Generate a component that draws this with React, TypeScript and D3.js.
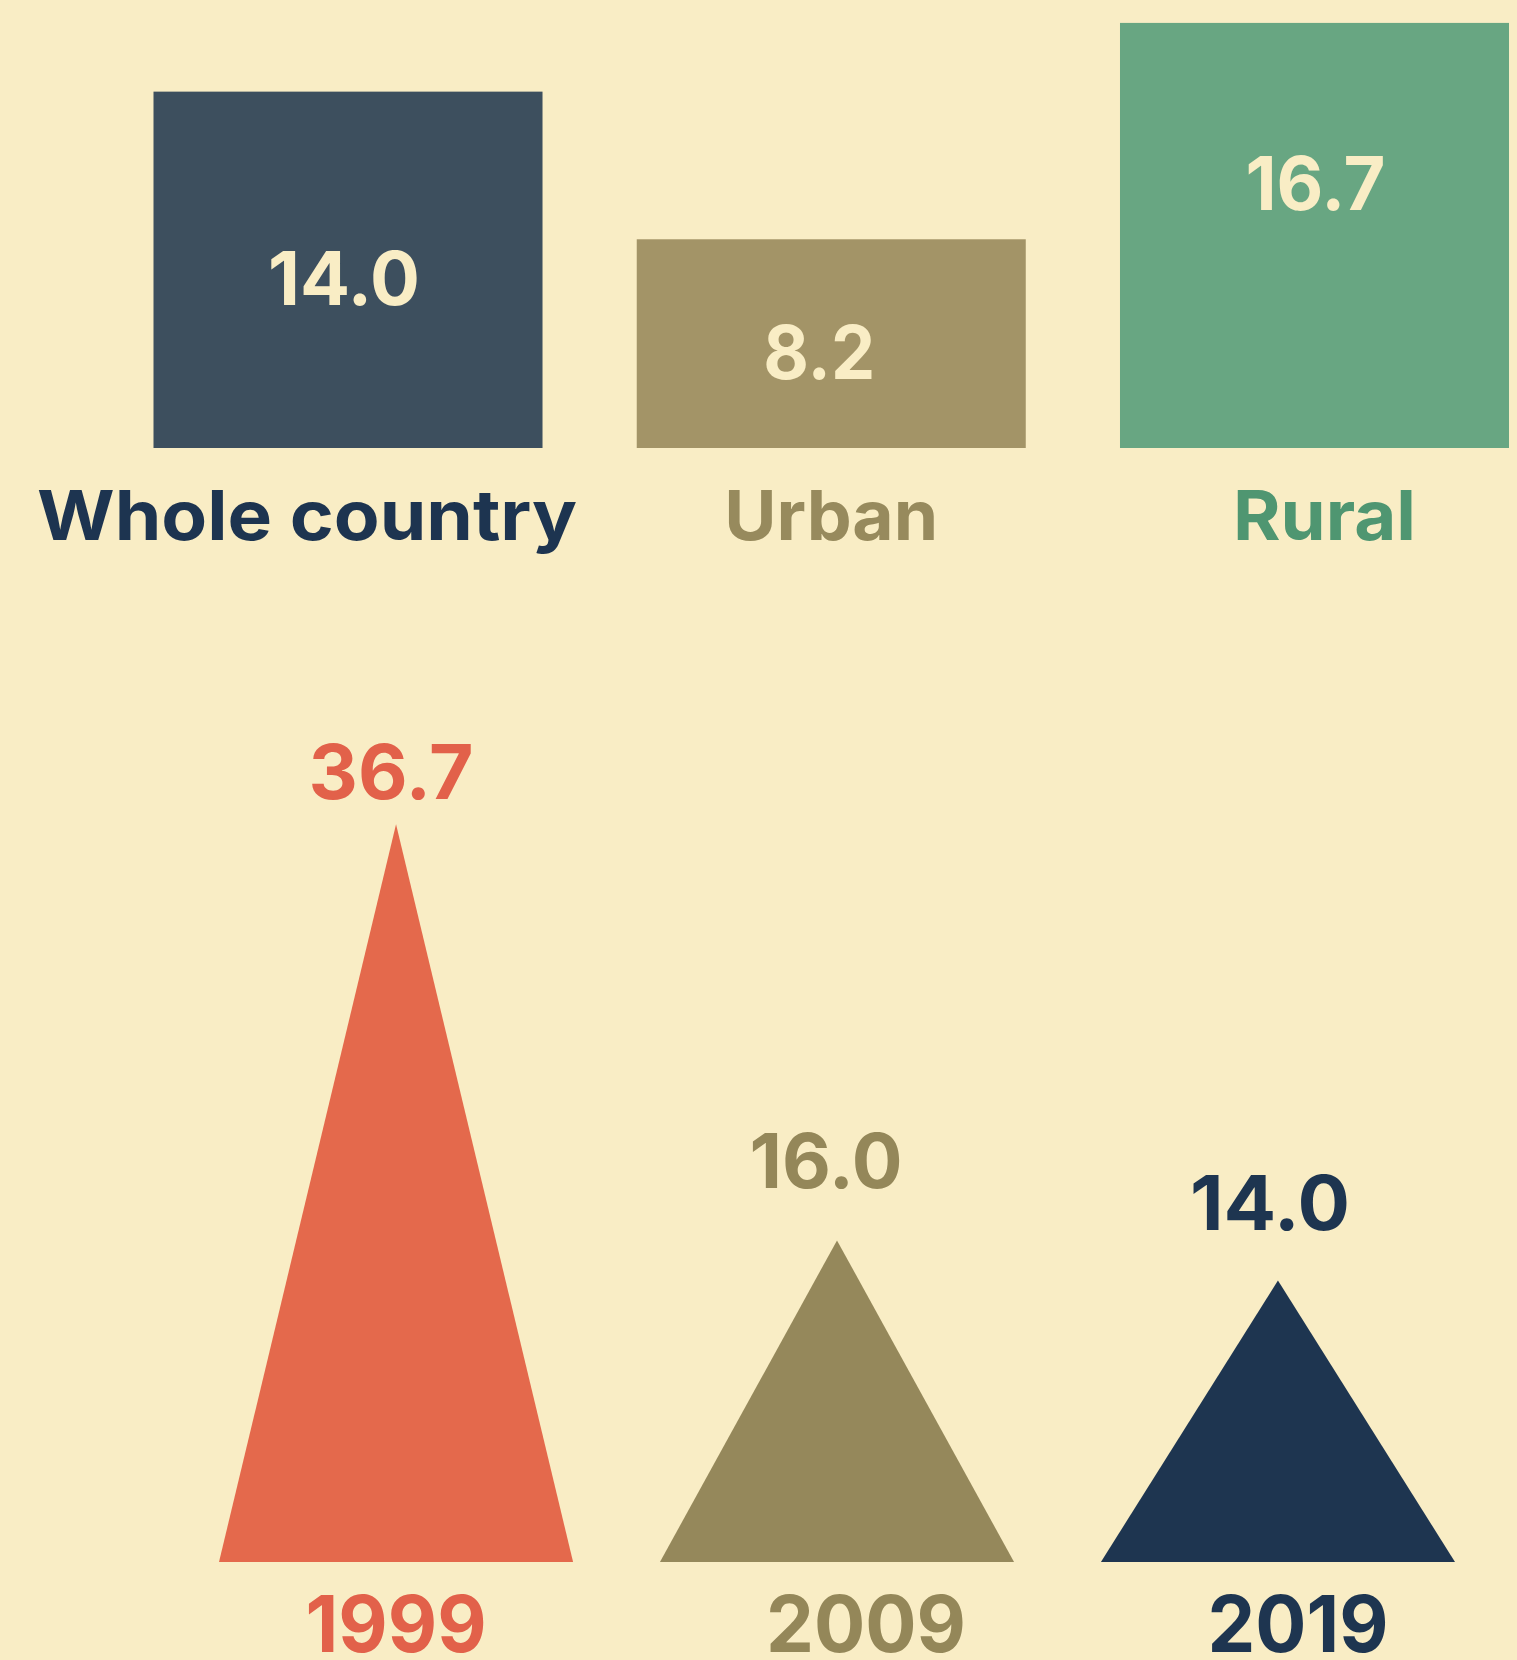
import React from "react";
import * as d3 from "d3";

const areaCategories = ["Whole country", "Urban", "Rural"];
const areaValues = [14.0, 8.2, 16.7];
const areaValueLabels = ["14.0", "8.2", "16.7"];

const years = ["1999", "2009", "2019"];
const yearValues = [36.7, 16.0, 14.0];
const yearValueLabels = ["36.7", "16.0", "14.0"];

const W = 1517;
const H = 1660;
const BG = "#F9EDC5";
const FONT = "Inter, 'DejaVu Sans', sans-serif";

const barFill = ["#3D4F5E", "#A39467", "#68A682"];
const barLabelFill = ["#1D3450", "#978A5D", "#4F9671"];
const triFill = ["#E4694C", "#95885B", "#1E3550"];
const triLabelFill = ["#E2614A", "#948759", "#1E3550"];

// layout tweaks (not data)
const barValueFrac = [0.598, 0.671, 0.44];
const barValueDx = [-4, -12, 1];
const barValueLen = [152, 112, 140];
const catDx = [-41, 0, 10];
const catLen = [540, 214, 183];
const triValueGap = [25, 52, 51];
const triValueDx = [-5, -11, -8];
const triValueLen = [165, 153, 160];
const yearDx = [0, 29, 20];
const yearLen = [181, 200, 181];

export default function App() {
  const xTop = d3
    .scaleBand<string>()
    .domain(areaCategories)
    .range([153.5, 1509])
    .paddingInner(0.195)
    .paddingOuter(0);
  const yTop = d3.scaleLinear().domain([0, 17.6]).range([448, 0]);

  const xBot = d3
    .scaleBand<string>()
    .domain(years)
    .range([219, 1455])
    .paddingInner(0.197)
    .paddingOuter(0);
  const yBot = d3.scaleLinear().domain([0, 40]).range([1562, 1562 - 804]);

  const tri = d3.line<[number, number]>();

  return (
    <svg
      width={W}
      height={H}
      viewBox={`0 0 ${W} ${H}`}
      style={{ position: "absolute", left: 0, top: 0, display: "block" }}
    >
      <rect x={0} y={0} width={W} height={H} fill={BG} />

      {areaCategories.map((c, i) => {
        const x0 = xTop(c)!;
        const bw = xTop.bandwidth();
        const y0 = yTop(areaValues[i]);
        const y1 = yTop(0);
        const cx = x0 + bw / 2;
        return (
          <g key={c}>
            <rect x={x0} y={y0} width={bw} height={y1 - y0} fill={barFill[i]} />
            <text
              x={cx + barValueDx[i]}
              y={y0 + barValueFrac[i] * (y1 - y0)}
              textAnchor="middle"
              fontFamily={FONT}
              fontWeight={700}
              fontSize={74}
              fill={BG}
              textLength={barValueLen[i]}
              lengthAdjust="spacingAndGlyphs"
            >
              {areaValueLabels[i]}
            </text>
            <text
              x={cx + catDx[i]}
              y={540}
              textAnchor="middle"
              fontFamily={FONT}
              fontWeight={700}
              fontSize={69}
              fill={barLabelFill[i]}
              textLength={catLen[i]}
              lengthAdjust="spacingAndGlyphs"
            >
              {c}
            </text>
          </g>
        );
      })}

      {years.map((yr, i) => {
        const x0 = xBot(yr)!;
        const bw = xBot.bandwidth();
        const cx = x0 + bw / 2;
        const apexY = yBot(yearValues[i]);
        const baseY = yBot(0);
        const pts: [number, number][] = [
          [x0, baseY],
          [cx, apexY],
          [x0 + bw, baseY],
        ];
        return (
          <g key={yr}>
            <path d={tri(pts)! + "Z"} fill={triFill[i]} />
            <text
              x={cx + triValueDx[i]}
              y={apexY - triValueGap[i]}
              textAnchor="middle"
              fontFamily={FONT}
              fontWeight={700}
              fontSize={76}
              fill={triLabelFill[i]}
              textLength={triValueLen[i]}
              lengthAdjust="spacingAndGlyphs"
            >
              {yearValueLabels[i]}
            </text>
            <text
              x={cx + yearDx[i]}
              y={1652}
              textAnchor="middle"
              fontFamily={FONT}
              fontWeight={700}
              fontSize={78}
              fill={triLabelFill[i]}
              textLength={yearLen[i]}
              lengthAdjust="spacingAndGlyphs"
            >
              {yr}
            </text>
          </g>
        );
      })}
    </svg>
  );
}
